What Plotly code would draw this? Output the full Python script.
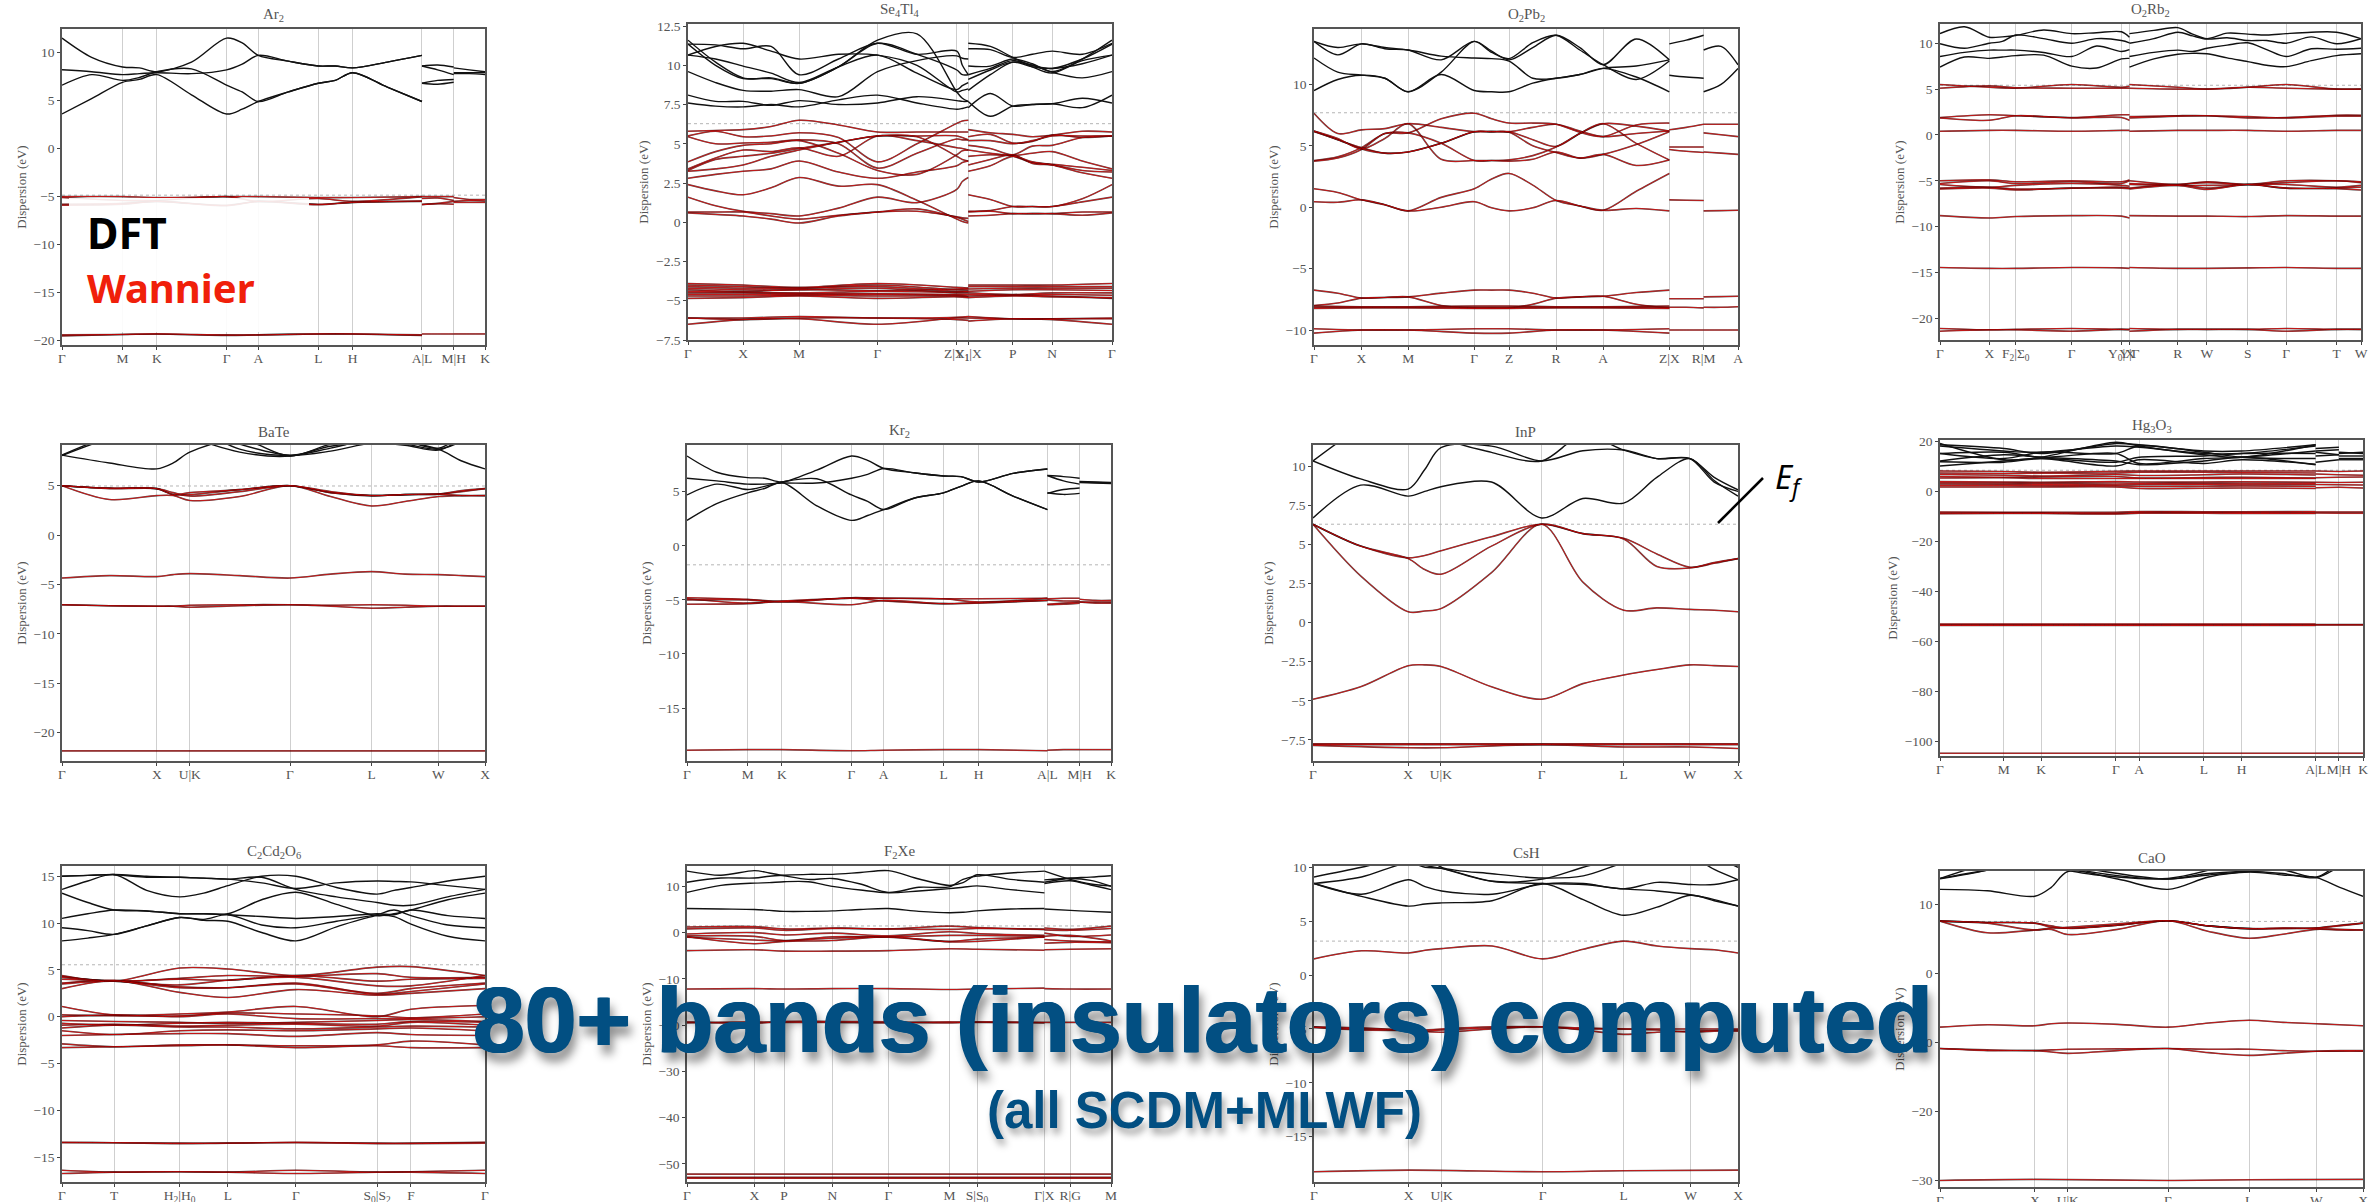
import plotly.graph_objects as go

W, H = 2380, 1202

# ---------- Ar2 ----------
AR2_TICKS = [0, .143, .224, .389, .464, .606, .687, .851, .926, 1]
AR2_LABELS = ["Γ", "M", "K", "Γ", "A", "L", "H", "A|L", "M|H", "K"]
AR2_K1 = [0, .07, .143, .183, .224, .306, .389, .426, .464, .535, .606, .646, .687, .769, .851]
AR2_K2 = [.851, .888, .926]
AR2_K3 = [.926, .963, 1]
AR2_KT = [0, .143, .224, .389, .464, .606, .687, .851]
AR2_D1 = [[3.6, 5.2, 6.9, 7.2, 7.7, 5.6, 3.6, 4.1, 4.9, 5.9, 6.8, 7.1, 7.9, 6.4, 4.9],
          [6.6, 7.7, 7.1, 7.4, 8.0, 8.3, 6.6, 5.9, 4.9, 5.9, 6.8, 7.1, 7.9, 6.4, 4.9],
          [8.2, 8.0, 7.7, 7.8, 7.9, 7.8, 8.2, 8.8, 9.7, 9.1, 8.6, 8.6, 8.4, 9.0, 9.7],
          [11.5, 9.5, 8.5, 8.4, 8.0, 9.0, 11.5, 11.0, 9.7, 9.1, 8.6, 8.6, 8.4, 9.0, 9.7]]
AR2_D2 = [[8.6, 8.2, 7.7], [8.6, 8.7, 8.5], [6.8, 7.1, 7.2], [6.8, 6.7, 6.9]]
AR2_D3 = [[8.4, 8.2, 8.0], [7.9, 7.9, 7.9], [7.8, 7.8, 7.7]]
AR2_W1 = [[-5.0, -5.0, -5.1, -5.0, -5.0, -5.1, -5.1, -5.0],
          [-5.1, -5.4, -5.4, -5.0, -5.5, -5.2, -5.5, -5.0],
          [-5.8, -5.7, -5.5, -5.9, -5.5, -5.8, -5.6, -5.5],
          [-5.9, -5.8, -5.5, -5.95, -5.5, -5.85, -5.6, -5.45],
          [-19.5, -19.35, -19.3, -19.45, -19.4, -19.3, -19.3, -19.45],
          [-19.4, -19.35, -19.3, -19.4, -19.4, -19.3, -19.3, -19.4]]
AR2_W2 = [[-5.0, -5.0, -5.0], [-5.2, -5.15, -5.4], [-5.8, -5.7, -5.5], [-5.85, -5.75, -5.8], [-19.3, -19.3, -19.3]]
AR2_W3 = [[-5.1, -5.3, -5.3], [-5.5, -5.4, -5.45], [-5.6, -5.6, -5.6], [-19.3, -19.3, -19.3]]

# ---------- Se4Tl4 ----------
SE_TICKS = [0, .130, .262, .447, .634, .661, .766, .859, 1]
SE_LABELS = ["Γ", "X", "M", "Γ", "Z|X<sub>1</sub>", "Y<sub>1</sub>|X", "P", "N", "Γ"]
SE_K1 = [0, .065, .13, .196, .262, .355, .447, .54, .634, .647, .661]
SE_K2 = [.661, .713, .766, .812, .859, .93, 1]
SE_KT1 = [0, .13, .262, .447, .634, .661]
SE_KT2 = [.661, .766, .859, 1]
SE_D1 = [[7.6, 7.4, 7.35, 7.5, 7.35, 7.8, 8.1, 7.6, 7.2, 7.25, 7.35],
         [8.1, 7.7, 7.7, 7.45, 7.75, 7.5, 7.6, 8.0, 7.75, 7.7, 7.7],
         [9.6, 8.9, 8.4, 8.35, 8.45, 8.0, 9.6, 10.3, 10.6, 10.45, 10.4],
         [10.65, 10.4, 9.95, 9.5, 8.9, 9.9, 10.65, 9.5, 8.45, 8.7, 8.9],
         [11.6, 10.2, 9.2, 9.15, 8.85, 9.9, 11.6, 12.0, 8.3, 7.9, 7.7],
         [11.35, 10.0, 9.15, 9.2, 8.85, 9.9, 11.4, 10.7, 9.7, 9.4, 9.4],
         [10.65, 11.2, 11.4, 10.9, 10.4, 10.7, 10.65, 10.0, 8.3, 8.4, 8.5],
         [11.35, 11.3, 11.05, 11.2, 9.4, 10.4, 11.4, 10.7, 10.9, 10.0, 9.4]]
SE_D2 = [[7.7, 6.75, 7.4, 7.5, 7.55, 7.9, 7.6],
         [7.3, 8.2, 7.4, 7.5, 7.55, 7.3, 8.1],
         [8.4, 9.4, 10.2, 10.0, 9.55, 9.2, 9.6],
         [9.1, 9.7, 10.2, 9.9, 9.8, 10.1, 10.65],
         [9.4, 9.8, 10.3, 10.0, 9.8, 10.4, 11.35],
         [9.95, 9.95, 10.4, 10.1, 9.6, 10.3, 10.65],
         [11.05, 11.0, 10.5, 10.7, 10.9, 10.7, 11.4],
         [11.4, 11.2, 10.5, 9.9, 9.5, 10.4, 11.6]]
SE_W1 = [[5.8, 5.85, 5.9, 6.1, 6.5, 6.2, 5.75, 5.75, 5.75, 5.75, 5.75],
         [5.5, 5.8, 5.45, 5.5, 5.7, 5.4, 3.85, 5.0, 6.3, 6.45, 6.5],
         [5.45, 5.0, 5.05, 5.1, 5.25, 5.0, 3.45, 4.4, 5.3, 5.25, 5.25],
         [3.85, 4.5, 4.9, 5.0, 5.2, 4.4, 3.3, 3.05, 4.3, 4.55, 4.6],
         [3.4, 4.1, 4.6, 4.5, 4.75, 4.2, 5.5, 5.2, 4.75, 4.7, 4.6],
         [3.3, 4.0, 4.2, 4.4, 4.7, 5.1, 5.5, 5.5, 5.5, 5.4, 5.25],
         [3.25, 3.4, 3.65, 4.2, 4.6, 5.1, 5.5, 5.45, 4.2, 4.0, 3.9],
         [2.8, 3.05, 3.25, 3.4, 3.9, 3.2, 2.8, 3.2, 3.6, 3.8, 3.9],
         [2.4, 2.0, 1.75, 2.2, 2.85, 2.3, 2.4, 1.4, .2, .05, -.05],
         [1.6, 1.05, .7, .55, .4, .9, 1.6, 1.25, 2.1, 2.6, 2.85],
         [.65, .65, .65, .4, .2, .45, .65, .7, .35, .28, .25],
         [.6, .5, .4, .2, -.05, .4, .65, .85, .3, .2, .05]]
SE_W2 = [[5.9, 5.7, 5.6, 5.45, 5.55, 5.8, 5.75],
         [5.45, 5.6, 5.05, 5.15, 5.55, 5.4, 5.5],
         [5.2, 5.2, 5.0, 5.2, 5.5, 5.5, 5.5],
         [4.9, 4.7, 4.3, 4.85, 4.9, 5.4, 5.5],
         [4.6, 4.4, 4.25, 4.4, 4.5, 3.9, 3.4],
         [4.2, 4.3, 4.2, 3.8, 3.7, 3.5, 3.3],
         [3.65, 4.0, 4.3, 3.75, 3.65, 3.3, 3.2],
         [3.25, 3.6, 4.2, 3.85, 3.65, 3.15, 2.8],
         [1.75, 1.45, 1.0, 1.0, 1.0, 1.5, 2.4],
         [.7, .75, 1.0, 1.0, 1.0, 1.3, 1.6],
         [.65, .7, .55, .55, .55, .65, .65],
         [.4, .45, .55, .55, .55, .45, .6]]
SE_WT1 = [[-3.9, -4.0, -4.15, -3.9, -4.15, -4.2], [-4.0, -4.1, -4.2, -4.0, -4.3, -4.3],
          [-4.1, -4.2, -4.2, -4.1, -4.4, -4.4], [-4.2, -4.3, -4.3, -4.2, -4.5, -4.5],
          [-4.3, -4.4, -4.3, -4.35, -4.25, -4.2], [-4.4, -4.45, -4.5, -4.4, -4.45, -4.4],
          [-4.5, -4.5, -4.55, -4.55, -4.6, -4.6], [-4.6, -4.6, -4.6, -4.6, -4.65, -4.7],
          [-4.7, -4.7, -4.65, -4.7, -4.7, -4.75], [-4.85, -4.8, -4.7, -4.85, -4.75, -4.8],
          [-6.1, -6.1, -6.0, -6.1, -6.05, -6.0], [-6.1, -6.2, -6.1, -6.1, -6.2, -6.25],
          [-6.5, -6.2, -6.15, -6.5, -6.1, -6.1]]
SE_WT2 = [[-4.0, -4.0, -4.0, -3.9], [-4.1, -4.1, -4.1, -4.1], [-4.25, -4.2, -4.2, -4.2],
          [-4.4, -4.3, -4.3, -4.35], [-4.5, -4.6, -4.5, -4.5], [-4.6, -4.65, -4.6, -4.65],
          [-4.7, -4.65, -4.7, -4.85], [-4.8, -4.7, -4.75, -4.8], [-6.0, -6.15, -6.15, -6.1],
          [-6.1, -6.15, -6.15, -6.15], [-6.3, -6.15, -6.2, -6.5]]

# ---------- O2Pb2 ----------
PB_TICKS = [0, .112, .222, .378, .460, .571, .682, .838, .919, 1]
PB_LABELS = ["Γ", "X", "M", "Γ", "Z", "R", "A", "Z|X", "R|M", "A"]
PB_K1 = [0, .056, .112, .167, .222, .3, .378, .419, .46, .516, .571, .627, .682, .76, .838]
PB_K2 = [.838, .878, .919]
PB_K3 = [.919, .96, 1]
PB_KT = [0, .112, .222, .378, .46, .571, .682, .838]
PB_D1 = [[9.5, 10.4, 10.75, 10.5, 9.4, 10.8, 9.5, 9.4, 9.4, 10.1, 10.5, 10.8, 11.3, 11.5, 12.0],
         [12.15, 11.0, 10.75, 10.5, 9.4, 11.0, 13.5, 12.7, 12.0, 13.0, 14.0, 13.0, 11.6, 13.7, 12.0],
         [13.5, 12.4, 13.3, 12.9, 12.8, 12.3, 12.15, 12.1, 11.9, 10.5, 10.5, 10.8, 11.3, 10.6, 9.4],
         [13.5, 13.0, 13.3, 13.0, 12.8, 12.0, 13.5, 12.6, 12.1, 13.4, 14.0, 12.8, 11.6, 10.4, 11.9]]
PB_D2 = [[13.3, 13.6, 14.0], [10.75, 10.6, 10.5]]
PB_D3 = [[12.8, 13.1, 11.6], [9.4, 10.0, 11.3]]
PB_W1 = [[7.65, 6.0, 6.3, 6.4, 6.8, 6.5, 6.15, 6.15, 6.1, 5.0, 4.45, 4.0, 4.3, 5.1, 6.15],
         [6.2, 5.5, 4.85, 4.4, 4.5, 5.2, 6.15, 6.15, 6.15, 6.5, 6.75, 6.2, 5.75, 6.0, 6.2],
         [6.15, 5.5, 4.75, 4.4, 4.5, 5.2, 6.15, 6.15, 6.15, 5.5, 4.95, 6.0, 6.8, 6.6, 6.2],
         [3.8, 4.1, 4.85, 6.0, 6.05, 7.2, 7.65, 7.2, 6.85, 6.85, 6.75, 6.1, 5.75, 6.7, 6.85],
         [3.75, 4.0, 4.7, 6.0, 6.05, 5.2, 3.8, 3.8, 3.85, 4.2, 4.9, 6.0, 6.8, 5.2, 3.85],
         [6.2, 5.6, 4.75, 5.6, 6.8, 3.9, 3.8, 3.8, 3.75, 3.9, 4.5, 4.0, 4.3, 3.4, 3.85],
         [1.5, 1.2, .6, .2, -.3, .8, 1.5, 2.3, 2.75, 1.8, .55, .1, -.25, 1.3, 2.75],
         [.45, .4, .6, .2, -.3, 0, .45, -.05, -.3, -.05, .55, .1, -.25, -.1, -.3],
         [-6.75, -7.0, -7.4, -7.35, -7.3, -7.0, -6.75, -6.75, -6.75, -7.0, -7.4, -7.3, -7.25, -6.95, -6.75],
         [-8.0, -7.8, -7.4, -7.35, -7.3, -8.0, -8.2, -8.2, -8.2, -7.9, -7.4, -7.3, -7.25, -7.9, -8.2]]
PB_WT = [[-8.05, -8.1, -8.1, -8.05, -8.05, -8.1, -8.1, -8.05], [-8.15, -8.15, -8.15, -8.15, -8.15, -8.15, -8.15, -8.15],
         [-8.25, -8.2, -8.2, -8.25, -8.25, -8.2, -8.2, -8.25], [-9.9, -10.0, -10.0, -9.9, -9.9, -10.0, -10.0, -9.9],
         [-10.25, -10.0, -10.0, -10.25, -10.25, -10.0, -10.0, -10.25]]
PB_W2 = [[6.3, 6.5, 6.75], [4.9, 4.9, 4.9], [4.7, 4.55, 4.45], [.6, .57, .55], [-7.45, -7.45, -7.45], [-8.15, -8.15, -8.2], [-10, -10, -10]]
PB_W3 = [[6.75, 6.75, 6.75], [6.05, 5.9, 5.75], [4.5, 4.4, 4.3], [-.3, -.28, -.25], [-7.3, -7.28, -7.25], [-8.15, -8.15, -8.1], [-10, -10, -10]]

# ---------- O2Rb2 ----------
RB_TICKS = [0, .117, .180, .313, .431, .450, .565, .634, .731, .822, .942, 1]
RB_LABELS = ["Γ", "X", "F<sub>2</sub>|Σ<sub>0</sub>", "Γ", "Y<sub>0</sub>|X", "Y|Γ", "R", "W", "S", "Γ", "T", "W"]
RB_K1 = [0, .058, .117, .148, .18, .246, .313, .372, .431, .45]
RB_K2 = [.45, .508, .565, .6, .634, .682, .731, .776, .822, .882, .942, 1]
RB_KT1 = [0, .117, .18, .313, .431, .45]
RB_KT2 = [.45, .565, .634, .731, .822, .942, 1]
RB_D1 = [[7.4, 8.5, 8.35, 8.5, 8.65, 8.7, 7.5, 7.3, 8.3, 8.35],
         [8.55, 9.0, 9.25, 9.25, 9.25, 9.0, 8.55, 9.7, 9.1, 9.3],
         [9.95, 9.45, 10.0, 10.2, 10.9, 10.5, 10.0, 10.5, 10.3, 10.05],
         [11.05, 11.8, 10.65, 10.7, 10.85, 11.45, 11.05, 11.15, 11.25, 10.65]]
RB_D2 = [[7.4, 8.3, 8.8, 8.9, 8.85, 8.4, 8.0, 7.6, 7.45, 8.1, 8.65, 8.85],
         [8.55, 9.0, 9.25, 9.1, 9.45, 9.8, 10.05, 9.3, 8.55, 9.4, 9.35, 9.45],
         [10.0, 10.5, 11.2, 10.8, 10.45, 10.6, 10.3, 10.3, 10.0, 10.7, 9.95, 10.5],
         [11.05, 11.4, 11.7, 11.0, 10.5, 11.1, 11.0, 10.9, 11.05, 11.2, 11.2, 10.5]]
RB_W1 = [[5.5, 5.2, 5.1, 5.5, 5.2, 5.3], [5.1, 5.35, 5.15, 5.1, 5.1, 5.1],
         [1.9, 2.2, 2.1, 1.9, 2.2, 2.2], [1.85, 1.6, 2.1, 1.85, 1.9, 1.6],
         [.4, .5, .5, .4, .5, .5],
         [-5.0, -4.9, -5.1, -5.0, -5.1, -4.9], [-5.3, -5.0, -5.3, -5.1, -5.3, -5.0],
         [-5.4, -5.7, -5.5, -5.3, -5.5, -5.6], [-5.8, -5.7, -5.9, -5.8, -5.7, -5.8],
         [-5.9, -5.8, -6.0, -5.8, -5.8, -5.85],
         [-8.8, -9.05, -8.9, -8.8, -8.85, -9.05], [-14.45, -14.55, -14.55, -14.45, -14.5, -14.55],
         [-21.1, -21.25, -21.2, -21.1, -21.2, -21.2], [-21.4, -21.25, -21.25, -21.4, -21.2, -21.25]]
RB_W2 = [[5.5, 5.2, 5.0, 5.2, 5.5, 5.0, 5.0], [5.1, 5.0, 5.0, 5.2, 5.1, 5.0, 5.0],
         [2.0, 2.1, 2.1, 1.85, 1.9, 2.15, 2.15], [1.85, 2.05, 2.1, 2.0, 1.85, 2.05, 2.05],
         [.4, .5, .5, .5, .4, .5, .5],
         [-5.0, -5.4, -5.1, -5.4, -5.0, -5.0, -5.2], [-5.3, -5.4, -5.2, -5.4, -5.2, -5.0, -5.1],
         [-5.4, -5.5, -5.5, -5.4, -5.4, -5.7, -5.5], [-5.8, -5.4, -5.8, -5.4, -5.8, -5.8, -5.7],
         [-5.9, -5.5, -5.95, -5.4, -5.8, -5.85, -6.0],
         [-8.8, -8.85, -8.85, -8.9, -8.8, -8.85, -8.85], [-14.45, -14.55, -14.55, -14.5, -14.45, -14.55, -14.55],
         [-21.1, -21.2, -21.2, -21.2, -21.1, -21.2, -21.2], [-21.4, -21.2, -21.2, -21.2, -21.4, -21.2, -21.2]]

# ---------- BaTe ----------
FCC_LABELS = ["Γ", "X", "U|K", "Γ", "L", "W", "X"]
BA_TICKS = [0, .224, .302, .539, .732, .890, 1]
BA_K = [0, .112, .224, .263, .302, .42, .539, .635, .732, .811, .89, .945, 1]
BA_KF = [0, .5, 1]
BA_D = [[8.1, 7.3, 6.7, 7.3, 8.4, 9.7, 8.0, 9.2, 9.6, 9.4, 8.7, 7.5, 6.7],
        [8.05, 9.8, 11, 11, 11, 9.2, 8.1, 8.8, 9.7, 9.5, 8.8, 10, 11],
        [8.1, 10, 11, 11, 11, 8.7, 8.05, 8.5, 9.3, 9.2, 8.7, 9.5, 11],
        [11, 11, 11, 11, 10, 8.4, 8.0, 9.0, 9.3, 9.1, 8.6, 9.7, 11]]
BA_W = [[5, 4.75, 4.7, 4.1, 4.1, 4.6, 5, 4.3, 4.0, 4.1, 4.15, 4.4, 4.7],
        [5, 4.75, 4.7, 4.1, 4.3, 4.6, 5, 4.3, 4.0, 4.1, 4.15, 4.5, 4.7],
        [5, 3.6, 4.0, 4.0, 3.5, 3.9, 5, 3.9, 2.95, 3.4, 3.9, 4.0, 4.0],
        [5, 4.7, 4.7, 4.3, 3.95, 4.4, 5, 4.4, 4.0, 4.1, 4.15, 4.0, 4.0],
        [-4.35, -4.1, -4.2, -4.0, -3.9, -4.1, -4.35, -3.95, -3.7, -3.95, -4.0, -4.1, -4.2],
        [-7.05, -7.15, -7.2, -7.2, -7.1, -7.05, -7.05, -7.1, -7.05, -7.1, -7.2, -7.2, -7.2],
        [-7.05, -7.15, -7.2, -7.2, -7.3, -7.15, -7.05, -7.2, -7.4, -7.3, -7.2, -7.2, -7.2]]
BA_WF = [[-21.85, -21.85, -21.85]]

# ---------- Kr2 ----------
KR_TICKS = [0, .143, .224, .388, .464, .605, .688, .85, .926, 1]
KR_K1 = [0, .07, .143, .183, .224, .306, .388, .426, .464, .535, .605, .646, .688, .769, .85]
KR_K2 = [.85, .888, .926]
KR_K3 = [.926, .963, 1]
KR_KT = [0, .143, .224, .388, .464, .605, .688, .85]
KR_D1 = [[2.35, 3.9, 4.9, 5.3, 5.85, 3.7, 2.35, 2.8, 3.35, 4.4, 4.9, 5.5, 6.0, 4.6, 3.35],
         [4.7, 5.7, 5.2, 5.5, 5.9, 6.2, 4.7, 4.1, 3.35, 4.4, 4.9, 5.5, 6.0, 4.6, 3.35],
         [6.25, 6.0, 5.7, 5.7, 5.8, 5.8, 6.25, 6.6, 7.15, 6.75, 6.45, 6.4, 5.9, 6.7, 7.1],
         [8.3, 6.8, 6.3, 6.25, 5.9, 7.0, 8.3, 7.9, 7.15, 6.75, 6.45, 6.4, 5.9, 6.7, 7.1]]
KR_D2 = [[6.5, 6.0, 5.7], [6.5, 6.4, 6.25], [4.85, 5.2, 5.35], [4.9, 4.75, 4.85]]
KR_D3 = [[5.95, 5.9, 5.85], [5.9, 5.85, 5.8], [5.85, 5.8, 5.75]]
KR_W1 = [[-4.8, -4.95, -5.15, -4.8, -4.85, -4.9, -4.9, -4.85],
         [-4.9, -5.3, -5.1, -4.85, -4.85, -4.9, -5.2, -4.85],
         [-5.0, -5.0, -5.2, -4.85, -5.1, -5.35, -5.3, -5.05],
         [-5.4, -5.35, -5.15, -5.45, -5.05, -5.35, -5.25, -5.05],
         [-18.9, -18.85, -18.85, -18.95, -18.9, -18.85, -18.85, -18.95]]
KR_W2 = [[-4.9, -4.85, -4.85], [-5, -5.1, -5.1], [-5.4, -5.3, -5.2], [-5.45, -5.4, -5.3], [-18.9, -18.85, -18.85]]
KR_W3 = [[-4.95, -5.05, -5.05], [-5.2, -5.2, -5.2], [-5.2, -5.3, -5.3], [-18.85, -18.85, -18.85]]

# ---------- InP ----------
IN_TICKS = [0, .224, .301, .538, .731, .887, 1]
IN_K = [0, .112, .224, .263, .301, .42, .538, .635, .731, .809, .887, .944, 1]
IN_KT = [0, .224, .301, .538, .731, .887, 1]
IN_D = [[6.7, 8.8, 8.1, 8.4, 8.7, 9.0, 6.7, 7.95, 7.65, 9.3, 10.5, 9.1, 8.1],
        [10.35, 9.2, 8.55, 9.8, 11.2, 11.3, 10.35, 11.0, 11.05, 10.5, 10.5, 9.3, 8.5],
        [10.35, 12.5, 14, 14, 12, 10.9, 10.35, 12, 11.05, 10.5, 10.5, 9.0, 8.4]]
IN_W = [[6.3, 4.9, 4.15, 4.3, 4.6, 5.5, 6.3, 5.7, 5.4, 4.4, 3.55, 3.8, 4.1],
        [6.3, 4.9, 4.1, 3.4, 3.1, 4.9, 6.3, 5.7, 5.35, 3.6, 3.5, 3.85, 4.1],
        [6.3, 3.0, .7, .75, .9, 3.2, 6.3, 2.6, .8, .95, .85, .8, .7],
        [-4.9, -4.1, -2.75, -2.7, -2.8, -4.1, -4.9, -3.9, -3.35, -3.0, -2.7, -2.75, -2.8]]
IN_WT = [[-7.75, -7.75, -7.75, -7.75, -7.75, -7.75, -7.75],
         [-7.8, -7.8, -7.8, -7.8, -7.8, -7.8, -7.8],
         [-7.85, -8.0, -8.0, -7.8, -7.95, -7.95, -8.05]]

# ---------- Hg3O3 ----------
HG_TICKS = [0, .151, .239, .416, .471, .624, .713, .888, .943, 1]
HG_KT = [0, .151, .239, .416, .471, .624, .713, .888]
HG_K2 = [.888, .943]
HG_K3 = [.943, 1]
HG_D1 = [[19.0, 12.5, 13.5, 19.5, 18.0, 14.5, 13.5, 18.5], [18.5, 17.0, 15.0, 19.0, 18.5, 16.0, 16.0, 18.5],
         [18.0, 16.0, 15.5, 18.0, 17.5, 15.0, 15.0, 18.0], [15.0, 15.5, 13.5, 15.0, 11.0, 13.0, 13.5, 16.0],
         [15.0, 13.0, 15.5, 15.0, 18.0, 15.5, 13.5, 13.0], [12.0, 14.5, 13.5, 12.0, 10.5, 12.0, 13.5, 10.5],
         [10.0, 12.0, 13.0, 10.0, 12.5, 11.0, 12.5, 10.7], [11.7, 11.5, 13.0, 11.5, 13.5, 14.0, 15.0, 15.0]]
HG_D2 = [[17, 17.5], [15.5, 14.5], [14, 14.5], [11.5, 12.5], [16, 16.5]]
HG_D3 = [[15.5, 15], [14, 14], [13, 13], [12.5, 12.5], [15, 15.5]]
HG_W1 = [[8.0, 7.8, 7.5, 7.9, 8.0, 8.0, 8.0, 8.0], [7.2, 7.0, 7.1, 7.2, 7.5, 7.5, 7.4, 7.2],
         [6.6, 6.3, 6.0, 6.6, 6.2, 6.5, 6.8, 6.4], [5.8, 5.5, 5.6, 5.8, 5.2, 5.4, 5.5, 5.2],
         [5.2, 5.3, 5.0, 5.0, 5.0, 5.0, 5.0, 5.0], [3.8, 3.6, 3.5, 3.8, 3.6, 3.6, 3.7, 3.5],
         [3.3, 3.2, 3.1, 3.2, 3.0, 3.1, 3.1, 3.0], [2.8, 2.7, 2.6, 2.5, 2.5, 2.6, 2.5, 2.5],
         [2.2, 2.2, 2.1, 2.1, 1.8, 1.9, 2.0, 1.8], [1.6, 1.6, 1.6, 1.6, 1.0, 1.1, 1.2, 1.0],
         [-8.4, -8.5, -8.5, -8.5, -8.2, -8.3, -8.3, -8.2], [-8.8, -8.8, -8.8, -9.0, -8.6, -8.6, -8.6, -8.7],
         [-9.1, -9.0, -9.0, -9.2, -8.9, -8.9, -9.0, -9.0],
         [-53.2, -53.2, -53.2, -53.2, -53.2, -53.2, -53.2, -53.2], [-53.5, -53.5, -53.5, -53.5, -53.5, -53.5, -53.5, -53.5],
         [-53.8, -53.8, -53.8, -53.8, -53.8, -53.8, -53.8, -53.8],
         [-104.9, -104.9, -104.9, -104.9, -104.9, -104.9, -104.9, -104.9]]
HG_W2 = [[8, 7.8], [6.8, 6.5], [5.3, 5.5], [3.5, 3.4], [2.6, 2.5], [1.3, 1.5], [-8.4, -8.4], [-8.8, -8.9], [-53.4, -53.4], [-53.6, -53.6], [-104.9, -104.9]]
HG_W3 = [[7.8, 8], [6.5, 6.3], [5.5, 5.6], [3.4, 3.5], [2.5, 2.4], [1.5, 1.2], [-8.4, -8.4], [-8.9, -8.9], [-53.4, -53.4], [-53.6, -53.6], [-104.9, -104.9]]

# ---------- C2Cd2O6 ----------
CD_TICKS = [0, .123, .278, .392, .553, .745, .825, 1]
CD_LABELS = ["Γ", "T", "H<sub>2</sub>|H<sub>0</sub>", "L", "Γ", "S<sub>0</sub>|S<sub>2</sub>", "F", "Γ"]
CD_K = [0, .061, .123, .2, .278, .335, .392, .472, .553, .649, .745, .785, .825, .912, 1]
CD_KT = [0, .123, .278, .392, .553, .745, .825, 1]
CD_D = [[8.1, 8.4, 8.8, 9.7, 10.6, 10.3, 10.2, 9.0, 8.1, 9.6, 10.8, 10.7, 9.9, 8.6, 8.1],
        [9.5, 9.2, 8.8, 9.7, 10.6, 10.4, 10.9, 9.8, 9.5, 10.2, 10.9, 11.4, 10.8, 9.8, 9.5],
        [10.5, 11.0, 11.4, 11.3, 11.0, 11.0, 10.9, 10.7, 10.5, 10.7, 11.0, 10.9, 11.4, 10.8, 10.5],
        [13.2, 12.2, 11.4, 11.3, 11.0, 11.0, 11.0, 12.5, 13.3, 12.0, 10.8, 11.0, 11.4, 12.5, 13.2],
        [13.6, 14.5, 15.2, 13.5, 12.8, 13.2, 14.0, 15.0, 15.0, 13.8, 13.1, 13.5, 13.8, 14.5, 15.0],
        [15, 15.1, 15.2, 15, 14.9, 14.8, 14.7, 14.9, 13.6, 12.8, 12.2, 11.9, 11.9, 12.8, 13.6],
        [15, 15.1, 15.15, 14.9, 14.9, 14.8, 14.7, 14.3, 13.7, 14.3, 14.5, 14.45, 14.4, 14, 13.6]]
CD_W = [[4.4, 3.8, 5.2, 5.1, 4.4, 5.3, 5.35, 4.4], [4.3, 3.8, 4.1, 4.4, 4.3, 4.6, 4.2, 4.2],
        [4.2, 3.8, 4.0, 3.9, 4.4, 3.8, 4.0, 4.1], [4.0, 3.8, 3.4, 3.9, 4.2, 3.3, 3.3, 4.4],
        [3.6, 3.9, 3.2, 3.1, 3.6, 2.5, 3.0, 3.6], [3.5, 3.8, 3.1, 3.1, 3.5, 2.4, 2.7, 3.5],
        [3.0, 3.85, 2.6, 2.05, 2.9, 2.3, 2.5, 3.0],
        [1.1, .2, .3, .5, 1.1, .0, .8, 1.2], [.2, .1, .1, .4, .3, .1, -.1, .3],
        [.0, .2, .0, .3, -.2, -.2, -.2, 0], [-.4, -.5, -.6, -.7, -.6, -.4, -.3, -.5],
        [-.7, -.9, -.7, -.6, -.7, -.8, -.5, -.6], [-.9, -.8, -1.0, -.9, -.8, -1.0, -.6, -.9],
        [-1.2, -.9, -1.1, -1.1, -1.3, -1.1, -1, -1.1], [-1.5, -1.9, -1.5, -1.4, -1.5, -1.3, -1.2, -1.5],
        [-2, -1.9, -1.8, -1.8, -2.1, -1.7, -1.9, -2], [-2.9, -3.2, -3.0, -3.0, -3.1, -3.0, -2.6, -3.0],
        [-3.3, -3.2, -3.1, -3.0, -3.3, -3.1, -3.3, -3.3],
        [-13.4, -13.45, -13.5, -13.5, -13.4, -13.5, -13.5, -13.4], [-13.45, -13.45, -13.55, -13.5, -13.45, -13.55, -13.55, -13.5],
        [-16.4, -16.6, -16.55, -16.6, -16.4, -16.6, -16.55, -16.4], [-16.75, -16.6, -16.55, -16.6, -16.75, -16.6, -16.6, -16.75]]

# ---------- F2Xe ----------
XE_TICKS = [0, .159, .229, .343, .475, .619, .684, .843, .904, 1]
XE_LABELS = ["Γ", "X", "P", "N", "Γ", "M", "S|S<sub>0</sub>", "Γ|X", "R|G", "M"]
XE_K1 = [0, .08, .159, .194, .229, .286, .343, .409, .475, .547, .619, .651, .684, .763, .843]
XE_K2 = [.843, .904, .952, 1]
XE_KT1 = [0, .159, .229, .343, .475, .619, .684, .843]
XE_KT2 = [.843, .904, 1]
XE_D1 = [[5.2, 5.1, 5.0, 4.8, 4.6, 4.6, 4.7, 5.0, 5.2, 4.6, 4.3, 4.4, 4.7, 5.1, 5.2],
         [8.7, 10.2, 10.7, 10.8, 11.0, 11, 10.0, 9.2, 8.6, 9.0, 9.5, 9.8, 10.1, 9.3, 8.6],
         [10.9, 11.8, 11.8, 12.2, 12.4, 12.6, 12.6, 13.0, 13.4, 11.6, 10.2, 10.8, 12.5, 11.5, 10.9],
         [13.3, 12.4, 13.4, 12.9, 12.3, 11.5, 11.7, 10.5, 8.7, 9.8, 9.9, 11.5, 12.2, 12.9, 13.3]]
XE_D2 = [[13.3, 11.5, 10.5, 10.1], [10.9, 11.7, 11.3, 10.0], [11.4, 11.8, 12.0, 12.3], [10.6, 11.2, 10.3, 9.3], [5.1, 4.8, 4.6, 4.4]]
XE_W1 = [[1.2, 1.3, .8, 1.0, .8, 1.4, 1.1, .7], [.8, 1.0, .5, .9, .8, .7, .9, .7],
         [-.3, .0, -.5, -.1, -.7, .2, -.2, -.6], [-.7, -.8, -1.7, -.9, -.9, -.6, -.6, -.8],
         [-1.0, -1.6, -1.8, -1.2, -1.0, -1.9, -1.4, -1.0], [-.9, -2.4, -1.9, -1.7, -.9, -2.0, -1.9, -.9],
         [-3.9, -3.7, -4, -4, -3.9, -3.5, -3.6, -3.8], [-12.2, -12.1, -12.2, -12.1, -12.1, -12.3, -12.2, -12.0],
         [-19.5, -19.3, -19.4, -19.4, -19.5, -19.3, -19.4, -19.5], [-19.3, -19.6, -19.2, -19.2, -19.3, -19.5, -19.3, -19.4],
         [-52.2, -52.2, -52.2, -52.2, -52.2, -52.2, -52.2, -52.2], [-52.9, -52.9, -52.9, -52.9, -52.9, -52.9, -52.9, -52.9],
         [-53.1, -53.1, -53.1, -53.1, -53.1, -53.1, -53.1, -53.1]]
XE_W2 = [[1.0, .7, 1.4], [.6, .5, .9], [-.1, -.8, -.5], [-.8, -.6, -1.8], [-1.5, -1.8, -2], [-2.3, -2.1, -2.2],
         [-3.7, -3.6, -3.5], [-12.1, -12.2, -12.2], [-19.4, -19.4, -19.4], [-52.2, -52.2, -52.2], [-52.9, -52.9, -52.9], [-53.1, -53.1, -53.1]]

# ---------- CsH ----------
CS_TICKS = [0, .223, .301, .539, .730, .888, 1]
CS_K = [0, .112, .223, .262, .301, .42, .539, .635, .73, .809, .888, .944, 1]
CS_KF = [0, .223, .539, .73, 1]
CS_D = [[8.5, 7.3, 6.4, 6.6, 6.7, 6.9, 8.5, 7.0, 5.55, 6.3, 7.4, 6.9, 6.4],
        [8.5, 7.5, 8.85, 8.2, 7.8, 7.5, 8.45, 8.5, 8.0, 8.6, 8.4, 8.4, 8.85],
        [8.5, 9.1, 10.4, 10, 9.9, 8.7, 8.5, 8.4, 8.0, 7.8, 7.45, 7.0, 6.4],
        [9.1, 10, 11, 11, 10, 9.4, 9.0, 9.2, 10.4, 11, 11, 9.8, 8.85],
        [11, 11, 11, 10.2, 9.9, 8.7, 8.9, 10, 11, 12, 12, 11, 10]]
CS_W = [[1.5, 2.25, 2.05, 2.3, 2.45, 2.7, 1.5, 2.4, 3.15, 2.7, 2.45, 2.35, 2.05],
        [-4.8, -4.9, -5.1, -5.1, -5.0, -4.8, -4.8, -4.9, -5.0, -5.0, -5.0, -5.0, -5.0],
        [-4.85, -5.1, -5.15, -5.25, -5.3, -5.0, -4.8, -5.1, -5.5, -5.3, -5.2, -5.15, -5.1],
        [-4.85, -5.0, -5.1, -5.2, -5.1, -4.9, -4.8, -5.0, -5.0, -5.1, -5.3, -5.2, -5.2]]
CS_WF = [[-18.25, -18.1, -18.25, -18.15, -18.1]]

# ---------- CaO ----------
CA_TICKS = [0, .224, .302, .539, .731, .890, 1]
CA_K = [0, .112, .224, .263, .302, .42, .539, .635, .731, .811, .89, .945, 1]
CA_KF = [0, .224, .539, .731, 1]
CA_D = [[12.2, 12.0, 11.2, 12.5, 14.8, 13.7, 12.2, 14, 14.7, 14.3, 13.9, 12.5, 11.2],
        [13.75, 15, 17, 17, 15.5, 14.2, 13.7, 14.5, 14.8, 14.5, 13.9, 15.5, 17],
        [13.8, 16, 18, 18, 16, 14.5, 13.7, 14.3, 14.8, 15, 14.0, 16, 18],
        [13.8, 15, 16, 16, 15, 14, 13.8, 15, 17, 16, 15, 17, 18]]
CA_W = [[7.6, 7.4, 7.3, 6.9, 6.55, 7.0, 7.65, 6.9, 6.5, 6.55, 6.6, 7.0, 7.3],
        [7.6, 7.4, 7.3, 6.7, 6.55, 7.0, 7.65, 6.9, 6.5, 6.5, 6.6, 6.9, 7.3],
        [7.6, 5.9, 6.3, 6.4, 5.65, 6.4, 7.65, 6.1, 5.1, 5.7, 6.4, 6.3, 6.3],
        [7.6, 7.3, 6.3, 6.6, 6.7, 7.2, 7.65, 6.9, 6.5, 6.6, 6.5, 6.4, 6.3],
        [-7.8, -7.45, -7.6, -7.3, -7.2, -7.4, -7.8, -7.2, -6.8, -7.1, -7.3, -7.45, -7.6],
        [-10.9, -11.1, -11.2, -11.1, -11.0, -10.95, -10.9, -11.0, -11.0, -11.2, -11.3, -11.3, -11.3],
        [-10.9, -11.2, -11.2, -11.4, -11.6, -11.2, -10.9, -11.5, -11.9, -11.6, -11.3, -11.2, -11.2]]
CA_WF = [[-30.05, -29.9, -30.05, -29.95, -29.9]]

HEX_LABELS = ["Γ", "M", "K", "Γ", "A", "L", "H", "A|L", "M|H", "K"]

# (title, ticks, labels, y tick values, y range, fermi, left, right, top, bottom, pieces)
PANELS = [
    ("Ar<sub>2</sub>", AR2_TICKS, AR2_LABELS, [-20, -15, -10, -5, 0, 5, 10], (-20.45, 12.45), -4.85, 62, 485, 29, 345,
     [(AR2_K1, AR2_D1, 0), (AR2_K2, AR2_D2, 0), (AR2_K3, AR2_D3, 0), (AR2_KT, AR2_W1, 1), (AR2_K2, AR2_W2, 1), (AR2_K3, AR2_W3, 1)]),
    ("Se<sub>4</sub>Tl<sub>4</sub>", SE_TICKS, SE_LABELS, [-7.5, -5, -2.5, 0, 2.5, 5, 7.5, 10, 12.5], (-7.5, 12.63), 6.28, 688, 1112, 24, 340,
     [(SE_K1, SE_D1, 0), (SE_K2, SE_D2, 0), (SE_K1, SE_W1, 1), (SE_K2, SE_W2, 1), (SE_KT1, SE_WT1, 1), (SE_KT2, SE_WT2, 1)]),
    ("O<sub>2</sub>Pb<sub>2</sub>", PB_TICKS, PB_LABELS, [-10, -5, 0, 5, 10], (-11.22, 14.51), 7.69, 1314, 1738, 29, 345,
     [(PB_K1, PB_D1, 0), (PB_K2, PB_D2, 0), (PB_K3, PB_D3, 0), (PB_K1, PB_W1, 1), (PB_KT, PB_WT, 1), (PB_K2, PB_W2, 1), (PB_K3, PB_W3, 1)]),
    ("O<sub>2</sub>Rb<sub>2</sub>", RB_TICKS, RB_LABELS, [-20, -15, -10, -5, 0, 5, 10], (-22.36, 12.1), 5.42, 1940, 2361, 24, 340,
     [(RB_K1, RB_D1, 0), (RB_K2, RB_D2, 0), (RB_KT1, RB_W1, 1), (RB_KT2, RB_W2, 1)]),
    ("BaTe", BA_TICKS, FCC_LABELS, [-20, -15, -10, -5, 0, 5], (-22.87, 9.12), 4.97, 62, 485, 445, 761,
     [(BA_K, BA_D, 0), (BA_K, BA_W, 1), (BA_KF, BA_WF, 1)]),
    ("Kr<sub>2</sub>", KR_TICKS, HEX_LABELS, [-15, -10, -5, 0, 5], (-19.9, 9.32), -1.76, 687, 1111, 445, 761,
     [(KR_K1, KR_D1, 0), (KR_K2, KR_D2, 0), (KR_K3, KR_D3, 0), (KR_KT, KR_W1, 1), (KR_K2, KR_W2, 1), (KR_K3, KR_W3, 1)]),
    ("InP", IN_TICKS, FCC_LABELS, [-7.5, -5, -2.5, 0, 2.5, 5, 7.5, 10], (-8.85, 11.37), 6.3, 1313, 1738, 445, 761,
     [(IN_K, IN_D, 0), (IN_K, IN_W, 1), (IN_KT, IN_WT, 1)]),
    ("Hg<sub>3</sub>O<sub>3</sub>", HG_TICKS, HEX_LABELS, [-100, -80, -60, -40, -20, 0, 20], (-106, 20.4), 8.3, 1940, 2363, 440, 756,
     [(HG_KT, HG_D1, 0), (HG_K2, HG_D2, 0), (HG_K3, HG_D3, 0), (HG_KT, HG_W1, 1), (HG_K2, HG_W2, 1), (HG_K3, HG_W3, 1)]),
    ("C<sub>2</sub>Cd<sub>2</sub>O<sub>6</sub>", CD_TICKS, CD_LABELS, [-15, -10, -5, 0, 5, 10, 15], (-17.65, 16.1), 5.55, 62, 485, 866, 1182,
     [(CD_K, CD_D, 0), (CD_KT, CD_W, 1)]),
    ("F<sub>2</sub>Xe", XE_TICKS, XE_LABELS, [-50, -40, -30, -20, -10, 0, 10], (-53.9, 14.4), 1.44, 687, 1111, 866, 1182,
     [(XE_K1, XE_D1, 0), (XE_K2, XE_D2, 0), (XE_KT1, XE_W1, 1), (XE_KT2, XE_W2, 1)]),
    ("CsH", CS_TICKS, FCC_LABELS, [-15, -10, -5, 0, 5, 10], (-19.2, 10.12), 3.15, 1314, 1738, 866, 1182,
     [(CS_K, CS_D, 0), (CS_K, CS_W, 1), (CS_KF, CS_WF, 1)]),
    ("CaO", CA_TICKS, FCC_LABELS, [-30, -20, -10, 0, 10], (-31, 14.87), 7.55, 1940, 2363, 871, 1187,
     [(CA_K, CA_D, 0), (CA_K, CA_W, 1), (CA_KF, CA_WF, 1)]),
]

SERIF = "Liberation Serif"
TXT = "#555555"
fig = go.Figure()
annotations = []
shapes = []

def px(x):
    return x / W

def py(y):
    return 1 - y / H

for i, (title, ticks, labels, yt, yr, ef, l, r, t, b, pieces) in enumerate(PANELS, start=1):
    xa, ya = f"x{i}", f"y{i}"
    axis_style = dict(showline=True, mirror=True, linecolor="#555555", linewidth=1.5, ticks="outside",
                      ticklen=3, tickwidth=1, tickcolor="#444444", zeroline=False, tickangle=0,
                      tickfont=dict(family=SERIF, size=13.5, color=TXT))
    fig.update_layout(**{
        f"xaxis{i}": dict(domain=[px(l), px(r)], range=[0, 1], anchor=ya, tickmode="array", tickvals=ticks,
                          ticktext=labels, showgrid=True, gridcolor="#cfcfcf", gridwidth=1.2,
                          ticklabelstandoff=-3, **axis_style),
        f"yaxis{i}": dict(domain=[py(b), py(t)], range=list(yr), anchor=xa, tickmode="array", tickvals=yt,
                          showgrid=False, title=dict(text="Dispersion (eV)", standoff=4,
                          font=dict(family=SERIF, size=13, color=TXT)), **axis_style),
    })
    fig.add_trace(go.Scatter(x=[0, 1], y=[ef, ef], mode="lines", xaxis=xa, yaxis=ya, showlegend=False,
                             line=dict(color="#b5b5b5", width=1, dash="dot"), hoverinfo="skip"))
    for k, bands, wan in pieces:
        for v in bands:
            fig.add_trace(go.Scatter(x=k, y=v, mode="lines", xaxis=xa, yaxis=ya, showlegend=False, hoverinfo="skip",
                                     line=dict(color="rgba(0,0,0,.65)" if wan else "#111111", width=1.6 if wan else 1.4,
                                               shape="spline", smoothing=0.9)))
            if wan:
                fig.add_trace(go.Scatter(x=k, y=v, mode="lines", xaxis=xa, yaxis=ya, showlegend=False, hoverinfo="skip",
                                         line=dict(color="rgba(235,0,0,.75)", width=1.0, shape="spline", smoothing=0.9)))
    annotations.append(dict(text=title, x=px((l + r) / 2), y=py(t - 3), xref="paper", yref="paper", showarrow=False,
                            xanchor="center", yanchor="bottom", font=dict(family=SERIF, size=15, color=TXT)))

# white patch that fades the Wannier bands behind the legend words of the first panel
shapes.append(dict(type="rect", xref="paper", yref="paper", x0=px(69), x1=px(309), y0=py(198), y1=py(332),
                   fillcolor="rgba(255,255,255,.9)", line=dict(width=0), layer="above"))

# Ef pointer
shapes.append(dict(type="line", xref="paper", yref="paper", x0=px(1718), y0=py(523), x1=px(1763), y1=py(478),
                   line=dict(color="black", width=2.5), layer="above"))
BLUE = "#024f82"
annotations += [
    dict(text="<b>DFT</b>", x=px(85), y=py(232), xref="paper", yref="paper", showarrow=False, xanchor="left",
         yanchor="middle", font=dict(family="Noto Sans", size=43, color="black")),
    dict(text="<b>Wannier</b>", x=px(85), y=py(287), xref="paper", yref="paper", showarrow=False, xanchor="left",
         yanchor="middle", font=dict(family="Noto Sans", size=40, color="#f0200a")),
    dict(text="<i>E<sub>f</sub></i>", x=px(1773), y=py(478), xref="paper", yref="paper", showarrow=False, xanchor="left",
         yanchor="middle", font=dict(family="Noto Sans", size=33, color="black")),
    dict(text="<b>80+ bands (insulators) computed</b>", x=px(1203), y=py(1020), xref="paper", yref="paper",
         showarrow=False, xanchor="center", yanchor="middle",
         font=dict(family="Liberation Sans", size=93, color=BLUE,
                   shadow=f"1px 0 0 {BLUE}, -1px 0 0 {BLUE}, 4px 9px 10px rgba(0,0,0,.45)")),
    dict(text="<b>(all SCDM+MLWF)</b>", x=px(1204), y=py(1110), xref="paper", yref="paper",
         showarrow=False, xanchor="center", yanchor="middle",
         font=dict(family="Liberation Sans", size=51, color=BLUE, shadow="3px 6px 7px rgba(0,0,0,.35)")),
]

fig.update_layout(width=W, height=H, margin=dict(l=0, r=0, t=0, b=0, autoexpand=False), autosize=False,
                  paper_bgcolor="white", plot_bgcolor="white", showlegend=False,
                  annotations=annotations, shapes=shapes)
fig.write_html("out.html", config=dict(displayModeBar=False, responsive=False),
               post_script="document.body.style.margin='0';document.documentElement.style.overflow='hidden';")
